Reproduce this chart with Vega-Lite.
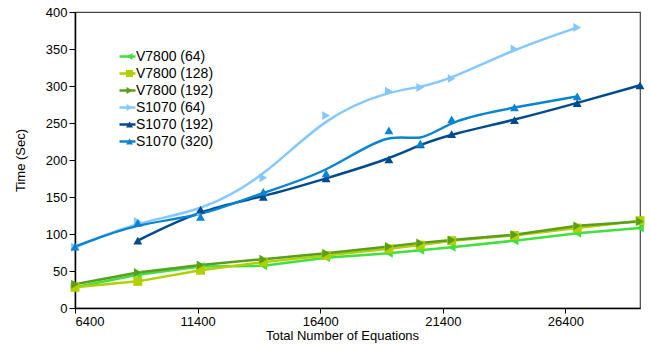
{
  "$schema": "https://vega.github.io/schema/vega-lite/v6.json",
  "width": 565,
  "height": 296,
  "autosize": {"type": "none"},
  "padding": {"left": 75, "top": 12, "right": 11, "bottom": 36},
  "background": "white",
  "config": {
    "view": {"stroke": "#444", "strokeWidth": 1.2},
    "font": "Liberation Sans"
  },
  "data": {
    "values": [
      {"x": 6400, "s": "V7800 (64)", "t": 28}, {"x": 8960, "s": "V7800 (64)", "t": 45}, {"x": 11520, "s": "V7800 (64)", "t": 56}, {"x": 14080, "s": "V7800 (64)", "t": 57}, {"x": 16640, "s": "V7800 (64)", "t": 68}, {"x": 19200, "s": "V7800 (64)", "t": 74}, {"x": 20480, "s": "V7800 (64)", "t": 78}, {"x": 21760, "s": "V7800 (64)", "t": 82}, {"x": 24320, "s": "V7800 (64)", "t": 91}, {"x": 26880, "s": "V7800 (64)", "t": 101}, {"x": 29440, "s": "V7800 (64)", "t": 108},
      {"x": 6400, "s": "V7800 (128)", "t": 28}, {"x": 8960, "s": "V7800 (128)", "t": 36}, {"x": 11520, "s": "V7800 (128)", "t": 51}, {"x": 14080, "s": "V7800 (128)", "t": 62}, {"x": 16640, "s": "V7800 (128)", "t": 71}, {"x": 19200, "s": "V7800 (128)", "t": 80}, {"x": 20480, "s": "V7800 (128)", "t": 85}, {"x": 21760, "s": "V7800 (128)", "t": 91}, {"x": 24320, "s": "V7800 (128)", "t": 98}, {"x": 26880, "s": "V7800 (128)", "t": 108}, {"x": 29440, "s": "V7800 (128)", "t": 118},
      {"x": 6400, "s": "V7800 (192)", "t": 32}, {"x": 8960, "s": "V7800 (192)", "t": 48}, {"x": 11520, "s": "V7800 (192)", "t": 58}, {"x": 14080, "s": "V7800 (192)", "t": 66}, {"x": 16640, "s": "V7800 (192)", "t": 74}, {"x": 19200, "s": "V7800 (192)", "t": 83}, {"x": 20480, "s": "V7800 (192)", "t": 88}, {"x": 21760, "s": "V7800 (192)", "t": 92}, {"x": 24320, "s": "V7800 (192)", "t": 99}, {"x": 26880, "s": "V7800 (192)", "t": 111}, {"x": 29440, "s": "V7800 (192)", "t": 117},
      {"x": 6400, "s": "S1070 (64)", "t": 82}, {"x": 8960, "s": "S1070 (64)", "t": 117}, {"x": 11520, "s": "S1070 (64)", "t": 130}, {"x": 14080, "s": "S1070 (64)", "t": 176}, {"x": 16640, "s": "S1070 (64)", "t": 260}, {"x": 19200, "s": "S1070 (64)", "t": 293}, {"x": 20480, "s": "S1070 (64)", "t": 298}, {"x": 21760, "s": "S1070 (64)", "t": 310}, {"x": 24320, "s": "S1070 (64)", "t": 350}, {"x": 26880, "s": "S1070 (64)", "t": 379},
      {"x": 8960, "s": "S1070 (192)", "t": 91}, {"x": 11520, "s": "S1070 (192)", "t": 133}, {"x": 14080, "s": "S1070 (192)", "t": 150}, {"x": 16640, "s": "S1070 (192)", "t": 175}, {"x": 19200, "s": "S1070 (192)", "t": 201}, {"x": 20480, "s": "S1070 (192)", "t": 221}, {"x": 21760, "s": "S1070 (192)", "t": 235}, {"x": 24320, "s": "S1070 (192)", "t": 254}, {"x": 26880, "s": "S1070 (192)", "t": 277}, {"x": 29440, "s": "S1070 (192)", "t": 301},
      {"x": 6400, "s": "S1070 (320)", "t": 83}, {"x": 8960, "s": "S1070 (320)", "t": 115}, {"x": 11520, "s": "S1070 (320)", "t": 123}, {"x": 14080, "s": "S1070 (320)", "t": 157}, {"x": 16640, "s": "S1070 (320)", "t": 182}, {"x": 19200, "s": "S1070 (320)", "t": 240}, {"x": 20480, "s": "S1070 (320)", "t": 222}, {"x": 21760, "s": "S1070 (320)", "t": 255}, {"x": 24320, "s": "S1070 (320)", "t": 271}, {"x": 26880, "s": "S1070 (320)", "t": 286}
    ]
  },
  "encoding": {
    "x": {
      "field": "x", "type": "quantitative",
      "scale": {"domain": [6400, 29440], "nice": false, "zero": false},
      "axis": {
        "values": [6400, 11400, 16400, 21400, 26400],
        "format": "d", "grid": false,
        "title": "Total Number of Equations",
        "titleFont": "Liberation Sans", "titleFontSize": 13, "titleFontWeight": "normal", "titleColor": "#000", "titlePadding": 1, "titleX": 267,
        "labelFont": "Liberation Sans", "labelFontSize": 13, "labelColor": "#000", "labelPadding": 2,
        "domainColor": "#000", "domainWidth": 1.5, "tickColor": "#000", "tickSize": 5
      }
    },
    "y": {
      "field": "t", "type": "quantitative",
      "scale": {"domain": [0, 400], "nice": false},
      "axis": {
        "values": [0, 50, 100, 150, 200, 250, 300, 350, 400],
        "grid": false, "title": "Time (Sec)",
        "titleFont": "Liberation Sans", "titleFontSize": 13, "titleFontWeight": "normal", "titleColor": "#000", "titlePadding": 18,
        "labelFont": "Liberation Sans", "labelFontSize": 13, "labelColor": "#000", "labelPadding": 2,
        "domainColor": "#000", "domainWidth": 1.5, "tickColor": "#000", "tickSize": 6
      }
    }
  },
  "layer": [
    {
      "transform": [{"filter": "indexof(datum.s, 'V7800') == 0"}],
      "mark": {"type": "line", "strokeWidth": 2.5},
      "encoding": {
        "stroke": {
          "field": "s", "type": "nominal",
          "sort": ["V7800 (64)", "V7800 (128)", "V7800 (192)", "S1070 (64)", "S1070 (192)", "S1070 (320)"],
          "scale": {
            "range": ["#3fe03f", "#b0d000", "#5a9e1e", "#85c8ff", "#004b8d", "#0a84d2"]
          },
          "legend": {
            "orient": "none", "legendX": 43, "legendY": 36,
            "title": null, "padding": 0,
            "labelFont": "Liberation Sans", "labelFontSize": 14, "labelColor": "#000", "labelOffset": -1,
            "symbolType": "stroke", "symbolSize": 256, "symbolStrokeWidth": 2.5, "rowPadding": 0, "clipHeight": 17
          }
        }
      }
    },
    {
      "transform": [{"filter": "indexof(datum.s, 'S1070') == 0"}],
      "mark": {"type": "line", "strokeWidth": 2.5, "interpolate": "basis"},
      "encoding": {
        "stroke": {
          "field": "s", "type": "nominal",
          "sort": ["V7800 (64)", "V7800 (128)", "V7800 (192)", "S1070 (64)", "S1070 (192)", "S1070 (320)"]
        }
      }
    },
    {
      "mark": {"type": "point", "filled": true, "size": 80, "opacity": 1},
      "encoding": {
        "color": {
          "field": "s", "type": "nominal",
          "scale": {
            "domain": ["V7800 (64)", "V7800 (128)", "V7800 (192)", "S1070 (64)", "S1070 (192)", "S1070 (320)"],
            "range": ["#3fe03f", "#b0d000", "#5a9e1e", "#85c8ff", "#004b8d", "#0a84d2"]
          },
          "legend": {
            "orient": "none", "legendX": 47.5, "legendY": 36,
            "title": null, "padding": 0,
            "labelExpr": "''", "labelFontSize": 14,
            "symbolSize": 49, "symbolStrokeWidth": 0, "rowPadding": 0, "clipHeight": 17
          }
        },
        "shape": {
          "field": "s", "type": "nominal",
          "scale": {
            "domain": ["V7800 (64)", "V7800 (128)", "V7800 (192)", "S1070 (64)", "S1070 (192)", "S1070 (320)"],
            "range": ["triangle-left", "square", "triangle-right", "triangle-right", "triangle-up", "triangle-up"]
          },
          "legend": {
            "orient": "none", "legendX": 47.5, "legendY": 36,
            "title": null, "padding": 0,
            "labelExpr": "''", "labelFontSize": 14,
            "symbolSize": 49, "symbolStrokeWidth": 0, "rowPadding": 0, "clipHeight": 17
          }
        }
      }
    }
  ]
}
